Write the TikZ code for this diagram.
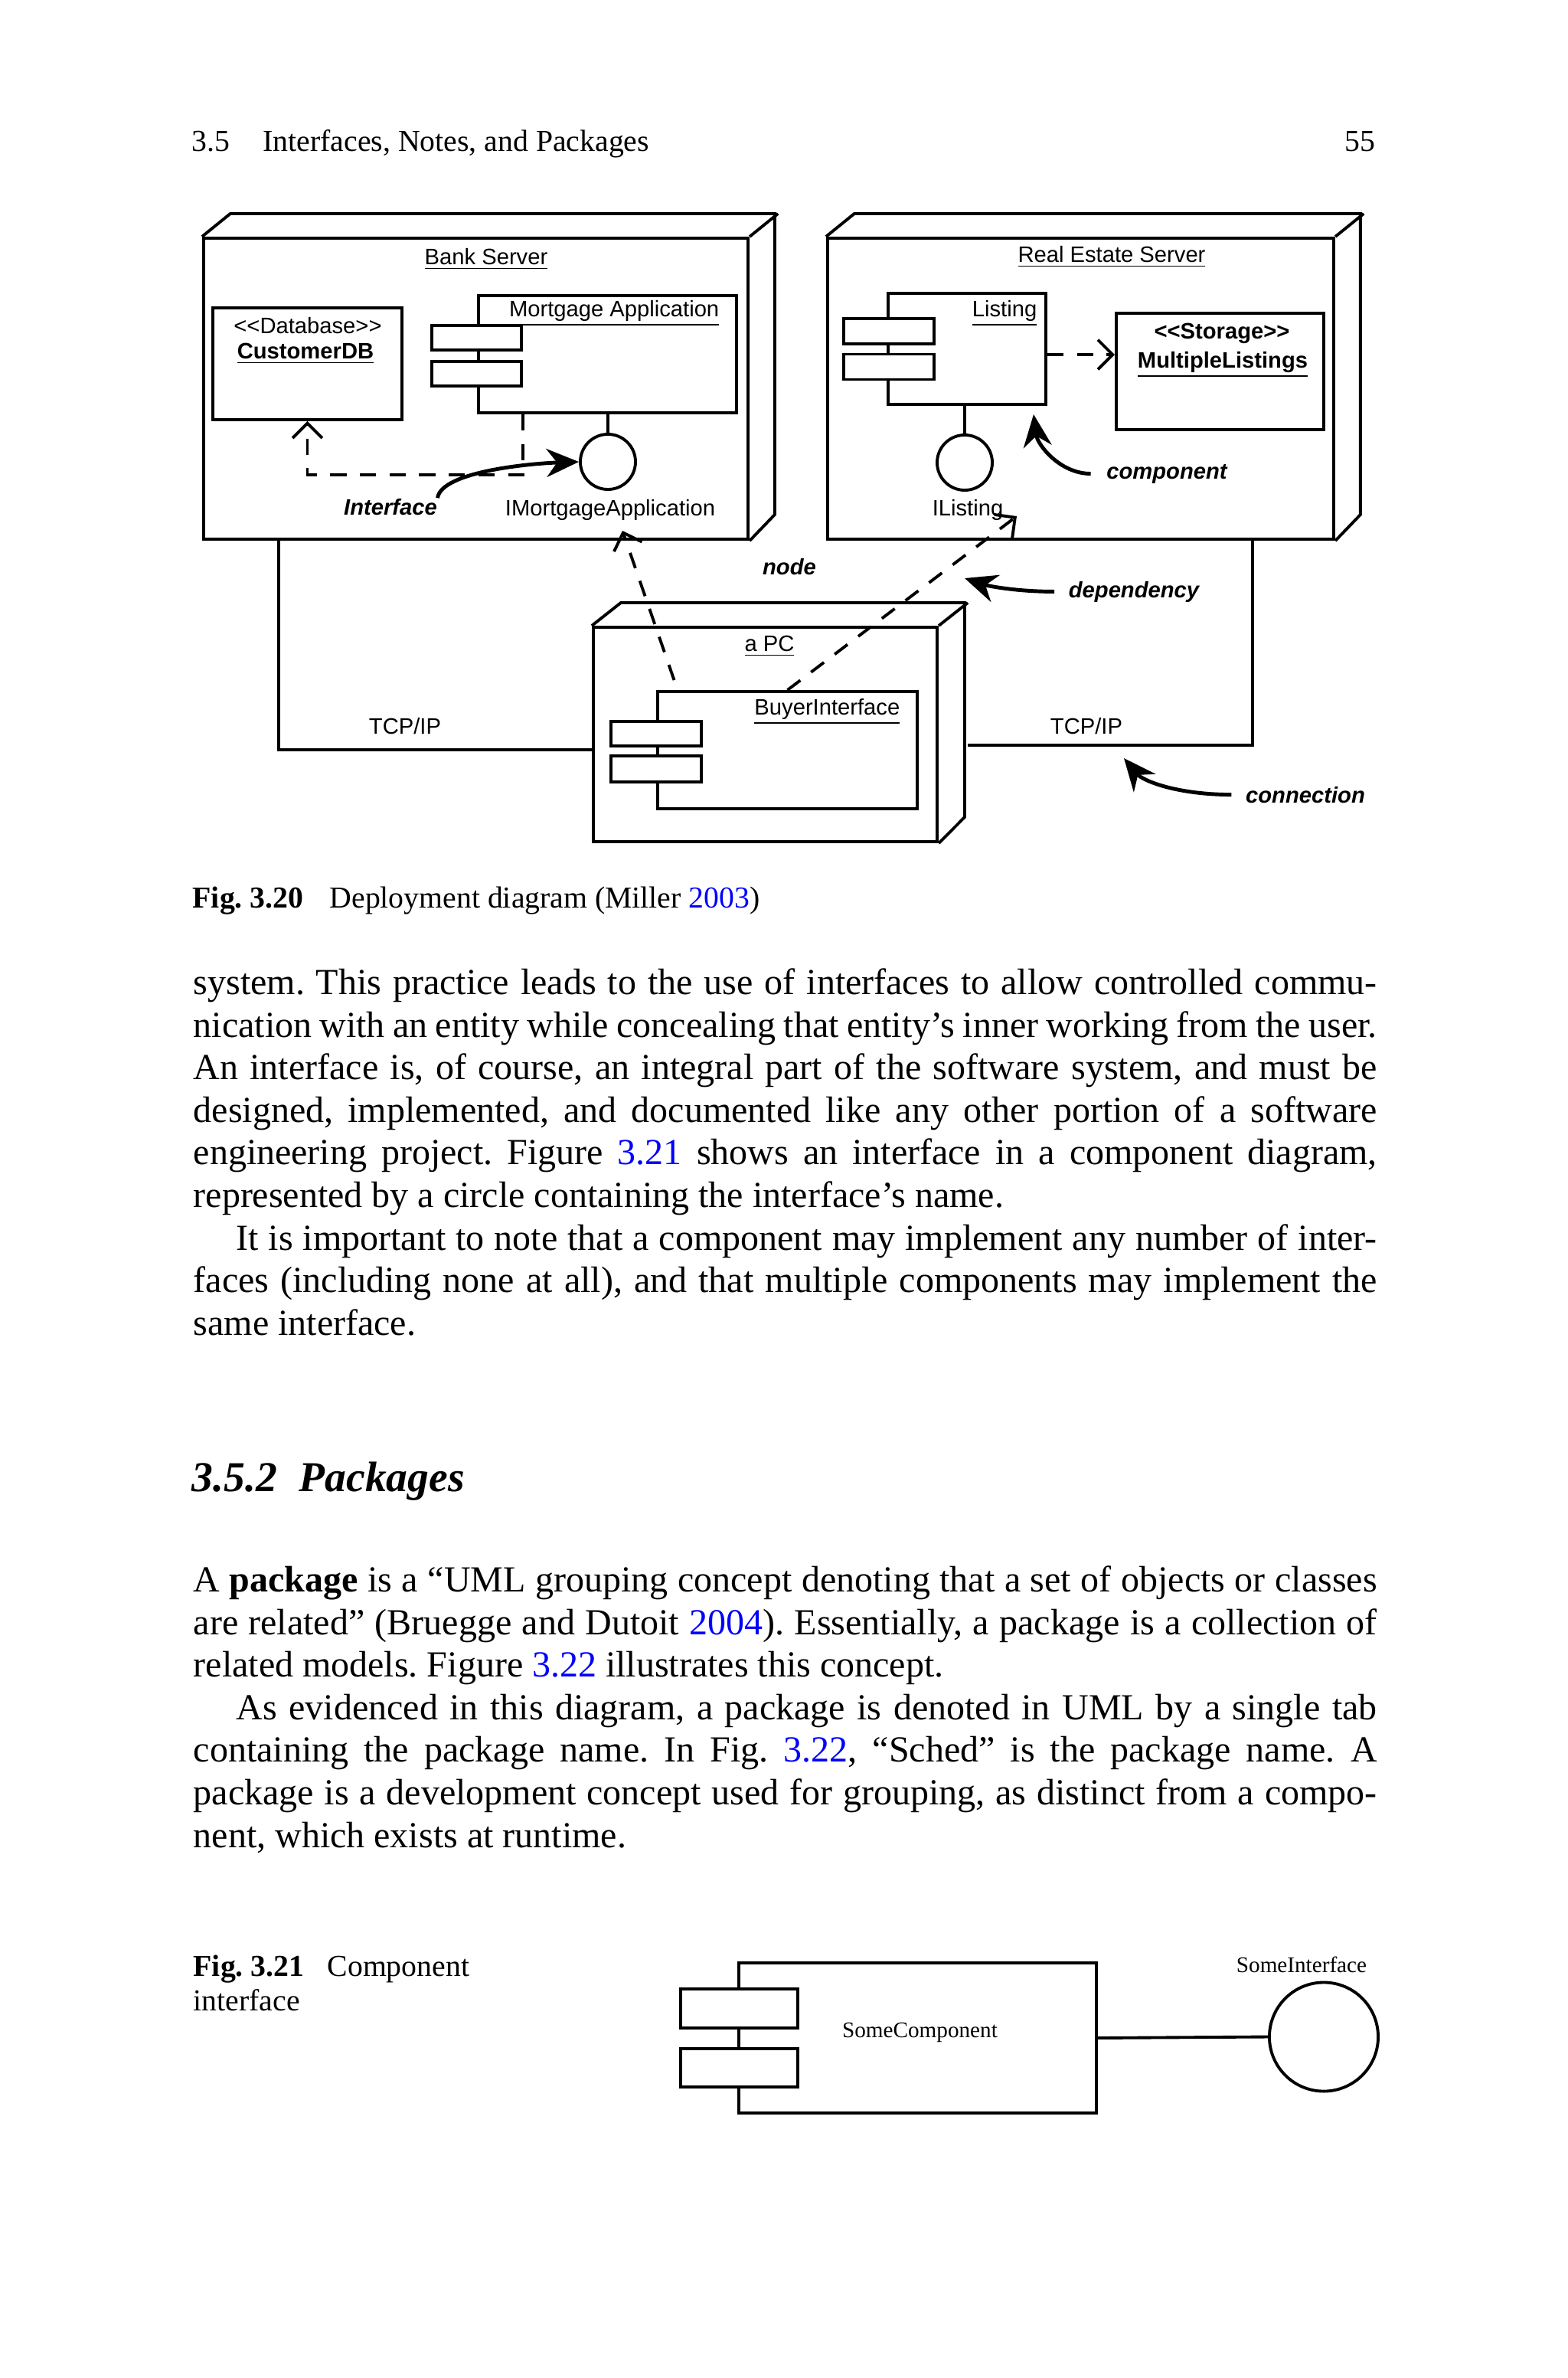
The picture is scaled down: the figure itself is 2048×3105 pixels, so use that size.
\documentclass[tikz,border=0pt]{standalone}
\usepackage{fontspec}
\setmainfont{Liberation Serif}
\setsansfont{Liberation Sans}
\usepackage{xcolor}
\usetikzlibrary{arrows.meta}
\frenchspacing

\newcommand{\jline}[1]{\makebox[15.45cm][s]{#1}}
\newcommand{\jlinei}[1]{\makebox[14.89cm][s]{#1}}
\newcommand{\bref}[1]{\textcolor{blue}{#1}}

\tikzset{
  txt/.style={inner sep=0pt, anchor=base west, font=\fontsize{13.65}{15.8}\selectfont},
  captxt/.style={inner sep=0pt, anchor=base west, font=\fontsize{11.3}{12.8}\selectfont},
  lbl/.style={inner sep=0pt, anchor=base, font=\sffamily\fontsize{8.3}{10}\selectfont},
  blbl/.style={lbl, font=\sffamily\bfseries\fontsize{8.3}{10}\selectfont},
  note/.style={lbl, font=\sffamily\bfseries\itshape\fontsize{8.3}{10}\selectfont},
  box/.style={draw, line width=1.1pt, fill=white, inner sep=0pt},
  iface/.style={draw, circle, line width=1.1pt, fill=white, inner sep=0pt, minimum size=0.72cm},
  depline/.style={line width=1.1pt, dash pattern=on 6pt off 5pt, -{Straight Barb[length=5.5pt,width=11pt]}},
  callout/.style={line width=1.4pt, -{Stealth[length=12pt,width=10.5pt]}},
  conn/.style={line width=1.1pt, line join=miter}
}

\begin{document}
\begin{tikzpicture}[x=0.01cm,y=-0.01cm]
\useasboundingbox (0,0) rectangle (2048,3105);
\fill[white] (0,0) rectangle (2048,3105);

% running head
\node[captxt] (hnum) at (250,197) {3.5};
\node[captxt] (htitle) at (343,197) {Interfaces, Notes, and Packages};
\node[captxt, anchor=base east] (hpage) at (1797,197) {55};

% Bank Server
\node[box, minimum width=7.11cm, minimum height=3.93cm] (bank) at (621.5,507.5) {};
\draw[conn] (bank.north west) -- ++(37,-30) -- ++(711,0) -- ++(0,393) -- (bank.south east) (bank.north east) -- ++(37,-30);
\node[lbl] (banklbl) at (635,345) {\underline{Bank Server}};
\node[box, minimum width=2.47cm, minimum height=1.46cm] (custdb) at (401.5,475) {};
\node[lbl] (dbster) at (402,435) {<{}<Database>{}>};
\node[blbl] (dbname) at (399,468) {\underline{CustomerDB}};
\node[box, minimum width=3.37cm, minimum height=1.53cm] (mortapp) at (793.5,462.5) {};
\node[box, minimum width=1.17cm, minimum height=0.32cm] (mport1) at (622.5,441) {};
\node[box, minimum width=1.17cm, minimum height=0.32cm] (mport2) at (622.5,488) {};
\node[lbl, anchor=base east] (mortlbl) at (940,413) {\underline{Mortgage Application}};
\node[iface] (ima) at (794,603) {};
\node[lbl] (imalbl) at (797,673) {IMortgageApplication};
\draw[conn] (ima.north) -- (ima.north |- mortapp.south);
\draw[depline] (mport2.east |- mortapp.south) -- ++(0,79) -| (custdb.south);

% Real Estate Server
\node[box, minimum width=6.61cm, minimum height=3.93cm] (res) at (1411.5,507.5) {};
\draw[conn] (res.north west) -- ++(37,-30) -- ++(661,0) -- ++(0,393) -- (res.south east) (res.north east) -- ++(37,-30);
\node[lbl] (reslbl) at (1452,342) {\underline{Real Estate Server}};
\node[box, minimum width=2.06cm, minimum height=1.45cm] (listing) at (1263,455.5) {};
\node[box, minimum width=1.18cm, minimum height=0.33cm] (lport1) at (1161,432.5) {};
\node[box, minimum width=1.18cm, minimum height=0.33cm] (lport2) at (1161,479) {};
\node[lbl, anchor=base east] (listlbl) at (1355,413) {\underline{Listing}};
\node[box, minimum width=2.71cm, minimum height=1.52cm] (storage) at (1593.5,485) {};
\node[blbl] (storster) at (1596,442) {<{}<Storage>{}>};
\node[blbl] (storname) at (1597,480) {\underline{MultipleListings}};
\node[iface] (ilist) at (1260,604) {};
\node[lbl] (ilistlbl) at (1264,673) {IListing};
\draw[conn] (ilist.north) -- (ilist.north |- listing.south);
\draw[depline] ([yshift=-0.075cm]listing.east) -- ([yshift=-0.075cm]listing.east -| storage.west);

% a PC
\node[box, minimum width=4.49cm, minimum height=2.80cm] (pc) at (999.5,959) {};
\draw[conn] (pc.north west) -- ++(38,-30) -- ++(449,0) -- ++(0,280) -- (pc.south east) (pc.north east) -- ++(38,-30);
\node[lbl] (pclbl) at (1005,850) {\underline{a PC}};
\node[box, minimum width=3.39cm, minimum height=1.53cm] (buyer) at (1028.5,979.5) {};
\node[box, minimum width=1.18cm, minimum height=0.32cm] (bport1) at (857,958) {};
\node[box, minimum width=1.18cm, minimum height=0.34cm] (bport2) at (857,1004) {};
\node[lbl, anchor=base east] (buyerlbl) at (1176,933) {\underline{BuyerInterface}};

% dependencies from the PC
\coordinate (imatip) at (813,693);
\coordinate (ilisttip) at (1328,674);
\draw[depline] ([shift={(-148,-13)}]buyer.north) -- (imatip);
\draw[depline] (buyer.north) -- (ilisttip);

% connections
\draw[conn] ([xshift=1cm]bank.south west) |- ([yshift=-0.2cm]pc.west);
\node[lbl] (tcpl) at (529,958) {TCP/IP};
\draw[conn] ([shift={(38,14)}]pc.east) -| ([xshift=5.57cm]res.south west);
\node[lbl] (tcpr) at (1419,958) {TCP/IP};

% callouts
\node[note] (ifnote) at (510,672) {Interface};
\draw[callout] (ifnote.north east) .. controls +(5,-35) and +(-60,2) .. (ima.west);
\node[note] (compnote) at (1524,625) {component};
\coordinate (comptip) at (1350,541);
\draw[callout] ([xshift=-0.2cm]compnote.west) .. controls +(-40,0) and +(5,40) .. (comptip);
\node[note] (nodenote) at (1031,750) {node};
\node[note] (depnote) at (1481,780) {dependency};
\coordinate (deptip) at (1260,755);
\draw[callout] ([xshift=-0.18cm]depnote.west) .. controls +(-50,0) and +(30,10) .. (deptip);
\node[note] (connnote) at (1705,1048) {connection};
\coordinate (conntip) at (1468,990);
\draw[callout] ([xshift=-0.18cm]connnote.west) .. controls +(-70,0) and +(25,30) .. (conntip);

% caption 3.20
\node[captxt, font=\bfseries\fontsize{11.3}{12.8}\selectfont] (fig20) at (251,1185) {Fig. 3.20};
\node[captxt] (fig20t) at (430,1185) {Deployment diagram (Miller \bref{2003})};

% body text
\node[txt] (t1) at (252,1298) {\jline{system. This practice leads to the use of interfaces to allow controlled commu-}};
\node[txt] (t2) at (252,1354) {\jline{nication with an entity while concealing that entity’s inner working from the user.}};
\node[txt] (t3) at (252,1409) {\jline{An interface is, of course, an integral part of the software system, and must be}};
\node[txt] (t4) at (252,1465) {\jline{designed, implemented, and documented like any other portion of a software}};
\node[txt] (t5) at (252,1520) {\jline{engineering project. Figure \bref{3.21} shows an interface in a component diagram,}};
\node[txt] (t6) at (252,1576) {represented by a circle containing the interface’s name.};
\node[txt] (t7) at (308,1632) {\jlinei{It is important to note that a component may implement any number of inter-}};
\node[txt] (t8) at (252,1687) {\jline{faces (including none at all), and that multiple components may implement the}};
\node[txt] (t9) at (252,1743) {same interface.};

% section heading
\node[txt, font=\bfseries\itshape\fontsize{15.8}{18}\selectfont] (secnum) at (250,1947) {3.5.2};
\node[txt, font=\bfseries\itshape\fontsize{15.8}{18}\selectfont] (sectitle) at (390,1947) {Packages};

\node[txt] (u1) at (252,2078) {\jline{A \textbf{package} is a “UML grouping concept denoting that a set of objects or classes}};
\node[txt] (u2) at (252,2134) {\jline{are related” (Bruegge and Dutoit \bref{2004}). Essentially, a package is a collection of}};
\node[txt] (u3) at (252,2189) {related models. Figure \bref{3.22} illustrates this concept.};
\node[txt] (u4) at (308,2245) {\jlinei{As evidenced in this diagram, a package is denoted in UML by a single tab}};
\node[txt] (u5) at (252,2300) {\jline{containing the package name. In Fig. \bref{3.22}, “Sched” is the package name. A}};
\node[txt] (u6) at (252,2356) {\jline{package is a development concept used for grouping, as distinct from a compo-}};
\node[txt] (u7) at (252,2412) {nent, which exists at runtime.};

% caption 3.21 and component interface
\node[captxt, font=\bfseries\fontsize{11.3}{12.8}\selectfont] (fig21) at (252,2580) {Fig. 3.21};
\node[captxt] (fig21t) at (427,2580) {Component};
\node[captxt] (fig21u) at (252,2625) {interface};
\node[box, minimum width=4.67cm, minimum height=1.96cm] (somecomp) at (1198.5,2661) {};
\node[box, minimum width=1.53cm, minimum height=0.51cm] (sport1) at (965.5,2622.5) {};
\node[box, minimum width=1.53cm, minimum height=0.50cm] (sport2) at (965.5,2700) {};
\node[inner sep=0pt, anchor=base, font=\fontsize{8.3}{10}\selectfont] (somelbl) at (1201.5,2660) {SomeComponent};
\node[draw, circle, line width=1.1pt, inner sep=0pt, minimum size=1.42cm] (someif) at (1729,2659.5) {};
\node[inner sep=0pt, anchor=base, font=\fontsize{8.3}{10}\selectfont] (someiflbl) at (1700,2575) {SomeInterface};
\draw[conn] (somecomp.east) -- (someif.west);
\end{tikzpicture}
\end{document}
